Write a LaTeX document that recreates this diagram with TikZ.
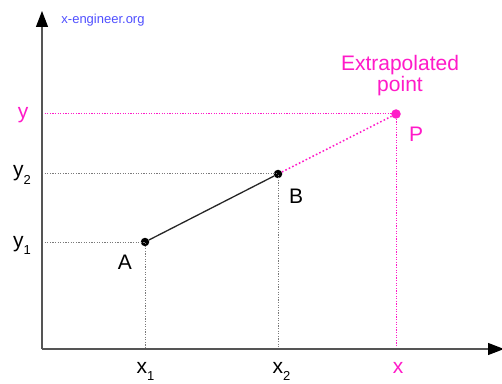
\documentclass[tikz,border=0pt]{standalone}
\usepackage{fontspec}
\setmainfont{Liberation Sans}
\definecolor{extraPink}{HTML}{FF1AC8}
\definecolor{siteBlue}{HTML}{4F4FFF}
\definecolor{guideGray}{HTML}{7A7A7A}
\definecolor{axisGray}{HTML}{555555}
\usetikzlibrary{arrows.meta, positioning}
\newcommand{\lowsub}[1]{\raisebox{-7pt}{\fontsize{13}{14}\selectfont #1}}

\begin{document}
\begin{tikzpicture}[x=1pt, y=1pt,
    dot/.style={circle, fill=#1, inner sep=0pt, minimum size=8.5pt},
    lbl/.style={font=\fontsize{21}{24}\selectfont, inner sep=1pt},
    guide/.style={line width=1pt, dash pattern=on 1.2pt off 1.4pt, #1},
    axis/.style={line width=1.2pt, axisGray, -{Triangle[length=16pt, width=12pt, black]}}]
  \useasboundingbox (0,0) rectangle (502,383);
  % axes
  \coordinate (O) at (42,34);
  \coordinate (yEnd) at (42,372);
  \coordinate (xEnd) at (504,34);
  % points
  \node[dot=black] (A) at (145,141) {};
  \node[dot=black] (B) at (278,209) {};
  \node[dot=extraPink, minimum size=9.5pt] (P) at (396,269) {};
  % guide lines
  \draw[guide=guideGray] (O |- A) -- (A.center) -- (A |- O);
  \draw[guide=guideGray] (O |- B) -- (B.center) -- (B |- O);
  \draw[guide=extraPink] (O |- P) -- (P.center) -- (P |- O);
  \draw[axis] (O) -- (yEnd);
  \draw[axis] (O) -- (xEnd);
  % interpolation and extrapolation
  \draw[line width=1.3pt, black!85] (A) -- (B);
  \draw[extraPink, line width=1.5pt, dash pattern=on 1.6pt off 2.2pt] (B) -- (P);
  % labels
  \node[lbl] (labA) at (125,121) {A};
  \node[lbl] (labB) at (296,187) {B};
  \node[lbl, text=extraPink] (labP) at (416,249) {P};
  \node[lbl, text=extraPink, align=center] (extra) at (400,307) {Extrapolated\\[-3pt]point};
  \node[lbl, anchor=base] (x1) at (145.5,10) {x\lowsub{1}};
  \node[lbl, anchor=base] (x2) at (281.5,10) {x\lowsub{2}};
  \node[lbl, anchor=base, text=extraPink] (xP) at (398,10) {x};
  \node[lbl, anchor=base] (y1) at (22,136) {y\lowsub{1}};
  \node[lbl, anchor=base] (y2) at (22,206) {y\lowsub{2}};
  \node[lbl, anchor=base, text=extraPink] (yP) at (23,264) {y};
  \node[font=\fontsize{13}{15}\selectfont, text=siteBlue] (site) at (103,363) {x-engineer.org};
\end{tikzpicture}
\end{document}
